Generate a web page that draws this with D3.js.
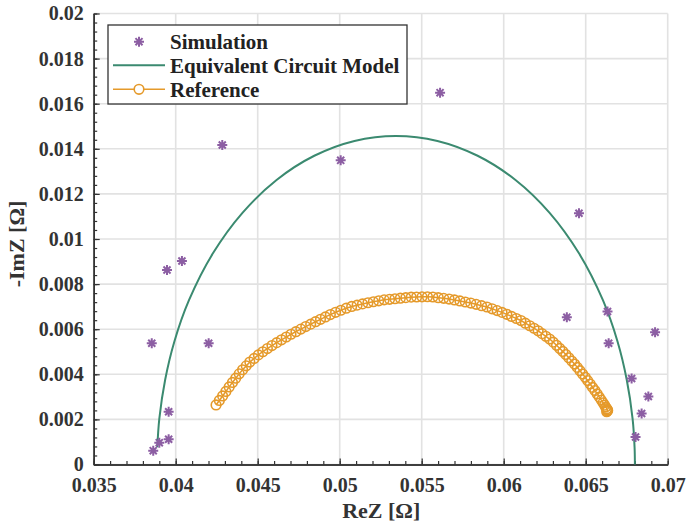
<!DOCTYPE html>
<html>
<head>
<meta charset="utf-8">
<script src="https://cdn.jsdelivr.net/npm/d3@7/dist/d3.min.js"></script>
<style>
  html, body { margin: 0; padding: 0; background: #fff; }
  svg { display: block; }
  text { font-family: "Liberation Serif", "Times New Roman", serif; font-weight: bold; }
</style>
</head>
<body>
<svg id="chart" width="687" height="527"></svg>
<script>
// Simulated impedance points (ReZ, -ImZ) in ohms
const simRe = [0.03854, 0.04201, 0.03957, 0.03957, 0.03900, 0.03863, 0.03947, 0.04038,
               0.04284, 0.05006, 0.05612, 0.06459, 0.06385, 0.06633, 0.06640, 0.06923,
               0.06780, 0.06882, 0.06841, 0.06804];
const simIm = [0.005375, 0.005375, 0.002341, 0.001118, 0.000967, 0.000612, 0.008625, 0.009024,
               0.014169, 0.013490, 0.016490, 0.011140, 0.006528, 0.006785, 0.005375, 0.005863,
               0.003814, 0.003016, 0.002262, 0.001220];

// Equivalent circuit model curve (ReZ, -ImZ)
const ecmRe = [0.03888, 0.03900, 0.03936, 0.03992, 0.04081, 0.04227, 0.04407, 0.04615,
               0.04845, 0.05090, 0.05343, 0.05596, 0.05841, 0.06072, 0.06280, 0.06459,
               0.06605, 0.06694, 0.06750, 0.06786, 0.06798, 0.06800];
const ecmIm = [0.000763, 0.002028, 0.003771, 0.005458, 0.007285, 0.009365, 0.011161, 0.012618,
               0.013691, 0.014349, 0.014570, 0.014349, 0.013691, 0.012618, 0.011161, 0.009365,
               0.007285, 0.005458, 0.003771, 0.002028, 0.000763, 0.000000];

// Reference measurement (ReZ, -ImZ)
const refRe = [
  0.04246, 0.04266, 0.04286, 0.04306, 0.04326, 0.04346, 0.04366, 0.04387, 0.04408, 0.04430,
  0.04452, 0.04478, 0.04504, 0.04531, 0.04559, 0.04587, 0.04616, 0.04645, 0.04674, 0.04703,
  0.04733, 0.04763, 0.04793, 0.04823, 0.04853, 0.04883, 0.04913, 0.04943, 0.04975, 0.05007,
  0.05040, 0.05073, 0.05106, 0.05139, 0.05172, 0.05205, 0.05238, 0.05271, 0.05304, 0.05337,
  0.05370, 0.05403, 0.05436, 0.05469, 0.05502, 0.05535, 0.05568, 0.05601, 0.05634, 0.05667,
  0.05700, 0.05733, 0.05766, 0.05799, 0.05832, 0.05865, 0.05898, 0.05929, 0.05960, 0.05990,
  0.06019, 0.06048, 0.06077, 0.06105, 0.06132, 0.06159, 0.06185, 0.06210, 0.06234, 0.06257,
  0.06280, 0.06302, 0.06322, 0.06342, 0.06361, 0.06379, 0.06397, 0.06415, 0.06432, 0.06449,
  0.06465, 0.06481, 0.06497, 0.06512, 0.06527, 0.06542, 0.06556, 0.06570, 0.06583, 0.06595,
  0.06606, 0.06615, 0.06622, 0.06628, 0.06632, 0.06634, 0.06631, 0.06628];
const refIm = [
  0.002640, 0.002840, 0.003040, 0.003240, 0.003440, 0.003640, 0.003827, 0.004020, 0.004202, 0.004374,
  0.004542, 0.004704, 0.004861, 0.005001, 0.005142, 0.005274, 0.005404, 0.005529, 0.005653, 0.005776,
  0.005890, 0.006004, 0.006116, 0.006224, 0.006332, 0.006439, 0.006544, 0.006649, 0.006750, 0.006840,
  0.006932, 0.007010, 0.007066, 0.007122, 0.007174, 0.007217, 0.007259, 0.007301, 0.007326, 0.007350,
  0.007375, 0.007400, 0.007421, 0.007428, 0.007434, 0.007440, 0.007428, 0.007398, 0.007368, 0.007338,
  0.007298, 0.007252, 0.007206, 0.007160, 0.007102, 0.007043, 0.006984, 0.006905, 0.006824, 0.006746,
  0.006659, 0.006566, 0.006474, 0.006384, 0.006266, 0.006152, 0.006043, 0.005928, 0.005803, 0.005684,
  0.005564, 0.005426, 0.005286, 0.005146, 0.005013, 0.004878, 0.004734, 0.004590, 0.004454, 0.004307,
  0.004160, 0.004013, 0.003866, 0.003720, 0.003570, 0.003420, 0.003280, 0.003130, 0.002987, 0.002855,
  0.002734, 0.002630, 0.002546, 0.002474, 0.002430, 0.002400, 0.002370, 0.002340];

// Axis ticks
const xTicks = [0.035, 0.04, 0.045, 0.05, 0.055, 0.06, 0.065, 0.07];
const xTickLabels = ["0.035", "0.04", "0.045", "0.05", "0.055", "0.06", "0.065", "0.07"];
const yTicks = [0, 0.002, 0.004, 0.006, 0.008, 0.01, 0.012, 0.014, 0.016, 0.018, 0.02];
const yTickLabels = ["0", "0.002", "0.004", "0.006", "0.008", "0.01", "0.012", "0.014", "0.016", "0.018", "0.02"];
const xMinorStep = 0.001;
const yMinorStep = 0.0004;

const legendLabels = ["Simulation", "Equivalent Circuit Model", "Reference"];

const colSim = "#8c5ea3";
const colEcm = "#3b8a70";
const colRef = "#e59a2b";
const colAxis = "#333333";
const colGrid = "#e2e2e2";

const svg = d3.select("#chart");
const plotL = 93.7, plotR = 667.7, plotT = 13.5, plotB = 464.5;

const x = d3.scaleLinear().domain([0.035, 0.07]).range([plotL, plotR]);
const y = d3.scaleLinear().domain([0, 0.02]).range([plotB, plotT]);

// grid
const grid = svg.append("g");
grid.selectAll("line.gx").data(xTicks).join("line")
  .attr("x1", d => x(d)).attr("x2", d => x(d))
  .attr("y1", plotT).attr("y2", plotB)
  .attr("stroke", colGrid).attr("stroke-width", 1.6);
grid.selectAll("line.gy").data(yTicks).join("line")
  .attr("y1", d => y(d)).attr("y2", d => y(d))
  .attr("x1", plotL).attr("x2", plotR)
  .attr("stroke", colGrid).attr("stroke-width", 1.6);

// minor ticks
const xMinor = d3.range(0.035, 0.07 + 1e-9, xMinorStep).map(v => +v.toFixed(4));
const yMinor = d3.range(0, 0.02 + 1e-9, yMinorStep).map(v => +v.toFixed(5));

const xMinorAxis = svg.append("g").attr("transform", `translate(0,${plotB})`)
  .call(d3.axisBottom(x).tickValues(xMinor).tickSizeInner(-3.5).tickSizeOuter(0).tickFormat(""));
const yMinorAxis = svg.append("g").attr("transform", `translate(${plotL},0)`)
  .call(d3.axisLeft(y).tickValues(yMinor).tickSizeInner(-3.5).tickSizeOuter(0).tickFormat(""));

// major axes
const xAxis = svg.append("g").attr("transform", `translate(0,${plotB})`)
  .call(d3.axisBottom(x).tickValues(xTicks).tickSizeInner(-6).tickSizeOuter(0)
        .tickPadding(13).tickFormat((d, i) => xTickLabels[i]));
const yAxis = svg.append("g").attr("transform", `translate(${plotL},0)`)
  .call(d3.axisLeft(y).tickValues(yTicks).tickSizeInner(-6).tickSizeOuter(0)
        .tickPadding(10).tickFormat((d, i) => yTickLabels[i]));

[xMinorAxis, yMinorAxis, xAxis, yAxis].forEach(g => {
  g.select(".domain").attr("stroke", colAxis).attr("stroke-width", 1.5);
  g.selectAll(".tick line").attr("stroke", colAxis).attr("stroke-width", 1.2);
  g.selectAll(".tick text")
    .attr("fill", colAxis)
    .style("font-family", '"Liberation Serif", serif')
    .style("font-weight", "bold")
    .style("font-size", "20px");
});
xAxis.selectAll(".tick text").attr("dy", "0.72em");

// axis titles
svg.append("text")
  .attr("x", (plotL + plotR) / 2 + 0.5).attr("y", 518)
  .attr("text-anchor", "middle").attr("fill", colAxis)
  .style("font-size", "22px")
  .text("ReZ [Ω]");
svg.append("text")
  .attr("transform", `translate(24,${(plotT + plotB) / 2 + 5}) rotate(-90)`)
  .attr("text-anchor", "middle").attr("fill", colAxis)
  .style("font-size", "22px")
  .text("-ImZ [Ω]");

// equivalent circuit model curve
const ecm = ecmRe.map((v, i) => [v, ecmIm[i]]);
svg.append("path")
  .datum(ecm)
  .attr("fill", "none").attr("stroke", colEcm).attr("stroke-width", 2)
  .attr("d", d3.line().x(d => x(d[0])).y(d => y(d[1])).curve(d3.curveCatmullRom));

// reference
const ref = refRe.map((v, i) => [v, refIm[i]]);
svg.append("path")
  .datum(ref)
  .attr("fill", "none").attr("stroke", colRef).attr("stroke-width", 1.5)
  .attr("d", d3.line().x(d => x(d[0])).y(d => y(d[1])));
svg.append("g").selectAll("circle").data(ref).join("circle")
  .attr("cx", d => x(d[0])).attr("cy", d => y(d[1])).attr("r", 4.8)
  .attr("fill", "none").attr("stroke", colRef).attr("stroke-width", 1.6);

// asterisk marker
function asterisk(r) {
  const d = r * 0.7071;
  return `M${-r},0L${r},0M0,${-r}L0,${r}M${-d},${-d}L${d},${d}M${-d},${d}L${d},${-d}`;
}
const sim = simRe.map((v, i) => [v, simIm[i]]);
svg.append("g").selectAll("path").data(sim).join("path")
  .attr("transform", d => `translate(${x(d[0])},${y(d[1])})`)
  .attr("d", asterisk(5))
  .attr("fill", "none").attr("stroke", colSim).attr("stroke-width", 2);

// legend
const lg = svg.append("g");
lg.append("rect")
  .attr("x", 108).attr("y", 25).attr("width", 299).attr("height", 79)
  .attr("fill", "#fff").attr("stroke", colAxis).attr("stroke-width", 1.3);
const rowY = [41.7, 65.3, 89.3];
lg.append("path")
  .attr("transform", `translate(139,${rowY[0]})`)
  .attr("d", asterisk(5))
  .attr("fill", "none").attr("stroke", colSim).attr("stroke-width", 2);
lg.append("line").attr("x1", 113).attr("x2", 165).attr("y1", rowY[1]).attr("y2", rowY[1])
  .attr("stroke", colEcm).attr("stroke-width", 2);
lg.append("line").attr("x1", 113).attr("x2", 165).attr("y1", rowY[2]).attr("y2", rowY[2])
  .attr("stroke", colRef).attr("stroke-width", 1.6);
lg.append("circle").attr("cx", 139).attr("cy", rowY[2]).attr("r", 4.8)
  .attr("fill", "#fff").attr("stroke", colRef).attr("stroke-width", 1.6);
lg.selectAll("text.lbl").data(legendLabels).join("text")
  .attr("x", 170).attr("y", (d, i) => rowY[i])
  .attr("dy", "0.35em")
  .attr("fill", "#222")
  .style("font-size", "21px")
  .text(d => d);
</script>
</body>
</html>
